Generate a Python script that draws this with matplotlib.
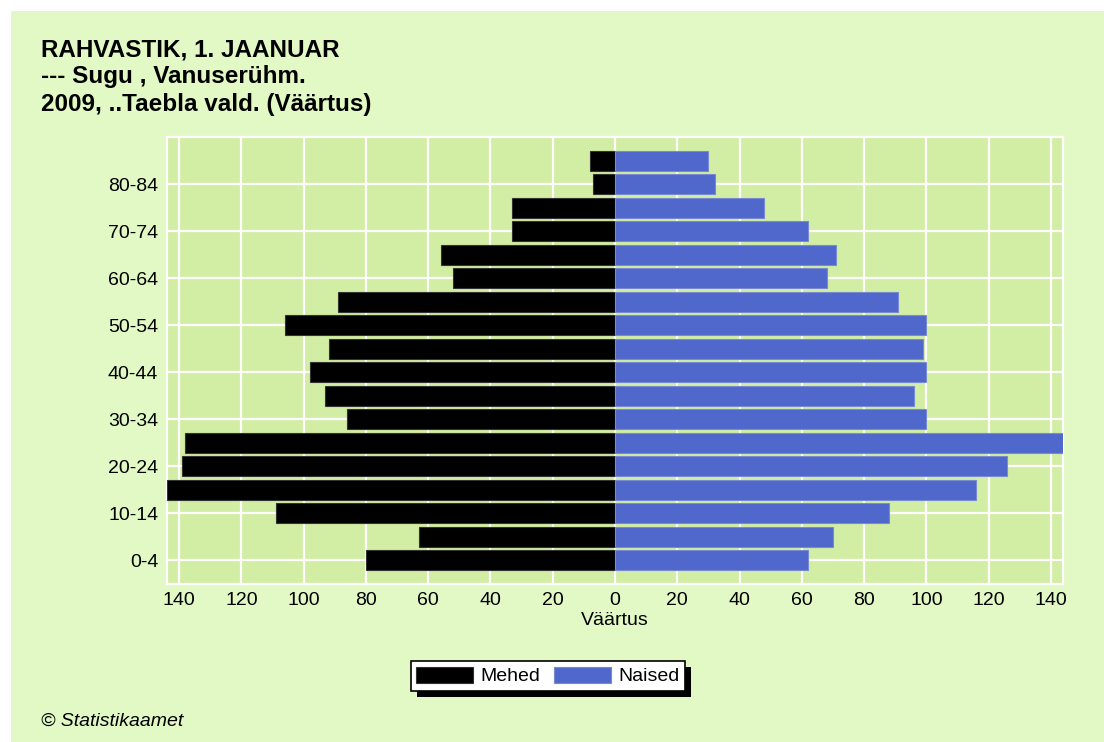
import matplotlib
matplotlib.use("Agg")
import matplotlib.pyplot as plt
from matplotlib.patches import Rectangle
import numpy as np

plt.rcParams['font.family'] = ['Liberation Sans', 'DejaVu Sans']

age_groups = ['0-4', '5-9', '10-14', '15-19', '20-24', '25-29', '30-34', '35-39',
              '40-44', '45-49', '50-54', '55-59', '60-64', '65-69', '70-74',
              '75-79', '80-84', '85+']
mehed = [80, 63, 109, 144, 139, 138, 86, 93, 98, 92, 106, 89, 52, 56, 33, 33, 7, 8]
naised = [62, 70, 88, 116, 126, 144, 100, 96, 100, 99, 100, 91, 68, 71, 62, 48, 32, 30]
x_ticks = [-140, -120, -100, -80, -60, -40, -20, 0, 20, 40, 60, 80, 100, 120, 140]

title_lines = ["RAHVASTIK, 1. JAANUAR", "--- Sugu , Vanuserühm.", "2009, ..Taebla vald. (Väärtus)"]

W, H = 1104, 742
fig = plt.figure(figsize=(W / 100, H / 100), dpi=100, facecolor='white')
bg = '#E2F9C6'
fig.patches.append(Rectangle((11 / W, 0), 1 - 11 / W, (H - 11) / H,
                             transform=fig.transFigure, facecolor=bg,
                             edgecolor='none', zorder=-10))

ax = fig.add_axes([166.7 / W, 158 / H, 896.6 / W, 447 / H])
ax.set_facecolor('#D2EEA4')

y = np.arange(len(age_groups))
ax.barh(y, -np.array(mehed), height=0.85, color='black', edgecolor='#333333',
        linewidth=0.8, label='Mehed', zorder=3)
ax.barh(y, naised, height=0.85, color='#5068CC', edgecolor='#7A8AD0',
        linewidth=0.8, label='Naised', zorder=3)

ax.set_xlim(-144, 144)
ax.set_ylim(-1, 18)
ax.set_xticks(x_ticks)
ax.set_xticklabels([str(abs(v)) for v in x_ticks], fontsize=14)
ax.set_yticks(y[::2])
ax.set_yticklabels(age_groups[::2], fontsize=14)
ax.tick_params(length=0, pad=6)
ax.grid(True, color='white', linewidth=1.6, zorder=0)
ax.set_axisbelow(True)
for s in ax.spines.values():
    s.set_color('white')
    s.set_linewidth(1.6)
ax.set_xlabel('Väärtus', fontsize=14, labelpad=2)

for i, line in enumerate(title_lines):
    fig.text(41 / W, 1 - (50 + 27 * i) / H, line, fontsize=17.5, fontweight='bold',
             va='center', ha='left')

fig.text(41 / W, 1 - 721 / H, '© Statistikaamet', fontsize=14, style='italic',
         va='center', ha='left')

leg = fig.legend(loc='center', bbox_to_anchor=(548 / W, 1 - 676 / H), ncol=2,
                 fontsize=14, frameon=True, fancybox=False, edgecolor='black',
                 facecolor='white', framealpha=1, handlelength=2.9, handleheight=0.9,
                 handletextpad=0.4, columnspacing=0.7, borderpad=0.3,
                 borderaxespad=0)
leg.get_frame().set_linewidth(1.2)

fig.canvas.draw()
bb = leg.get_window_extent()
fig.patches.append(Rectangle(((bb.x0 + 6) / W, (bb.y0 - 6) / H), bb.width / W, bb.height / H,
                             transform=fig.transFigure, facecolor='black',
                             edgecolor='none', zorder=-5))

fig.savefig('out.png', dpi=100, facecolor='white')
